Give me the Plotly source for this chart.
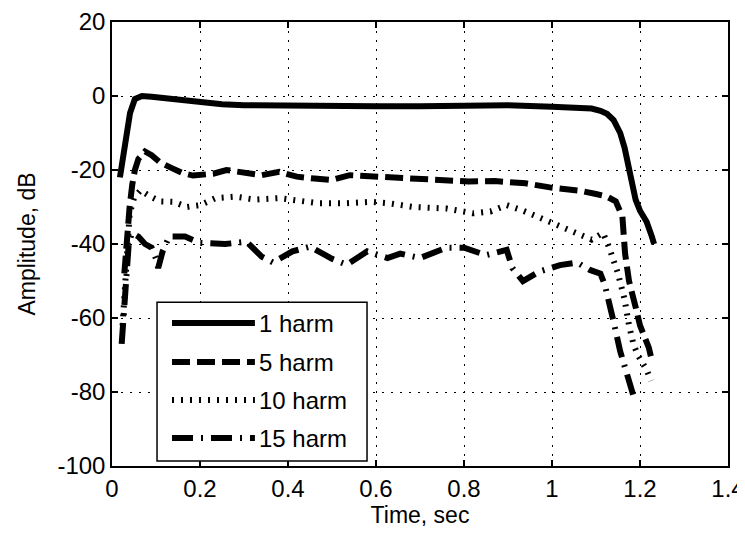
import plotly.graph_objects as go

# ---- data ----
x_h1 = [0.018, 0.03, 0.041, 0.052, 0.068, 0.09, 0.12, 0.16, 0.2, 0.25, 0.3, 0.4, 0.5, 0.6, 0.7,
        0.8, 0.9, 1.0, 1.05, 1.09, 1.11, 1.125, 1.14, 1.155, 1.165, 1.177, 1.19, 1.2, 1.207,
        1.215, 1.227, 1.232]
y_h1 = [-22, -12.7, -4.6, -0.8, 0, -0.2, -0.6, -1.2, -1.8, -2.2, -2.5, -2.7, -2.8, -2.8, -2.8,
        -2.7, -2.5, -2.9, -3.0, -3.4, -4.0, -4.8, -6.5, -10, -14, -21, -28, -31, -32.5,
        -34, -38, -40]

x_h5 = [0.028, 0.034, 0.04, 0.046, 0.052, 0.06, 0.075, 0.09, 0.11, 0.136, 0.16, 0.184, 0.2,
        0.23, 0.26, 0.306, 0.34, 0.38, 0.42, 0.46, 0.5, 0.54, 0.6, 0.63, 0.685, 0.745, 0.81,
        0.87, 0.94, 0.995, 1.064, 1.1, 1.125, 1.145, 1.16, 1.166, 1.175, 1.19, 1.2, 1.21,
        1.22, 1.228]
y_h5 = [-48, -38, -30, -24, -20, -17, -15, -16, -18, -19.5, -20.8, -21.5, -21.4, -21, -20,
        -20.9, -21.4, -20.5, -21.8, -22.3, -22.7, -21.4, -21.8, -21.8, -22.2, -22.4, -23.1,
        -23, -23.6, -24.7, -25.6, -26.5, -27.2, -28.5, -32.6, -42.5, -50, -57, -62, -65,
        -68, -72]

x_h10 = [0.024, 0.03, 0.035, 0.04, 0.05, 0.065, 0.085, 0.11, 0.14, 0.17, 0.2, 0.235, 0.28,
         0.325, 0.38, 0.43, 0.47, 0.53, 0.59, 0.63, 0.685, 0.76, 0.82, 0.86, 0.897, 0.93,
         0.966, 1.0, 1.05, 1.09, 1.116, 1.13, 1.15, 1.165, 1.175, 1.185, 1.195, 1.205,
         1.215, 1.225]
y_h10 = [-62, -52, -40, -32, -27.5, -25.5, -27, -28.5, -28.6, -30, -29.5, -27.6, -27.2,
         -28, -27.6, -28.6, -29, -29, -28.6, -29, -30, -30.4, -31.7, -31.2, -29.5, -30.8,
         -32.6, -34, -36.6, -38.8, -37, -41, -48, -55, -62, -67, -70, -72, -74, -77]

x_h15 = [0.022, 0.028, 0.033, 0.038, 0.045, 0.06, 0.075, 0.09, 0.1, 0.105, 0.115, 0.13,
         0.166, 0.2, 0.257, 0.306, 0.34, 0.366, 0.41, 0.45, 0.5, 0.534, 0.58, 0.626, 0.655,
         0.7, 0.76, 0.8, 0.85, 0.897, 0.91, 0.934, 0.97, 1.018, 1.057, 1.086, 1.11, 1.12,
         1.14, 1.155, 1.17, 1.185]
y_h15 = [-67, -58, -48, -40, -37, -38, -40, -41, -44, -46.5, -42, -38, -38, -39.7, -40,
         -39.4, -43.4, -45, -42, -40.7, -44, -45.6, -42, -43.8, -42.6, -43.8, -41, -41, -43,
         -41.6, -46.5, -50, -47.5, -45.7, -45, -47, -48, -51, -61, -69, -75, -81]

series_names = ["1 harm", "5 harm", "10 harm", "15 harm"]

x_ticks = [0, 0.2, 0.4, 0.6, 0.8, 1, 1.2, 1.4]
x_tick_labels = ["0", "0.2", "0.4", "0.6", "0.8", "1", "1.2", "1.4"]
y_ticks = [-100, -80, -60, -40, -20, 0, 20]
y_tick_labels = ["-100", "-80", "-60", "-40", "-20", "0", "20"]

# ---- styles ----
FONT = "Liberation Sans, Arial, Helvetica, sans-serif"
dashes = ["solid", "18px,7px", "2px,7px", "21px,8px,2px,8px"]
widths = [6, 6, 6, 6]

fig = go.Figure()
xs = [x_h1, x_h5, x_h10, x_h15]
ys = [y_h1, y_h5, y_h10, y_h15]
for name, x, y, d, w in zip(series_names, xs, ys, dashes, widths):
    fig.add_trace(go.Scatter(x=x, y=y, mode="lines", name=name, showlegend=False,
                             line=dict(color="black", width=w, dash=d)))

# ---- custom MATLAB-style legend (paper coordinates) ----
shapes = [dict(type="rect", xref="paper", yref="paper", x0=0.0731, x1=0.414,
               y0=0.0113, y1=0.369, fillcolor="white", line=dict(color="black", width=1.5),
               layer="above")]
annotations = []
row_y = [0.322, 0.234, 0.1486, 0.063]
for name, d, w, ry in zip(series_names, dashes, widths, row_y):
    shapes.append(dict(type="line", xref="paper", yref="paper", x0=0.0974, x1=0.232,
                       y0=ry, y1=ry, line=dict(color="black", width=w, dash=d),
                       layer="above"))
    annotations.append(dict(xref="paper", yref="paper", x=0.2354, y=ry, text=name,
                            showarrow=False, xanchor="left", yanchor="middle",
                            font=dict(family=FONT, size=24, color="black")))

axis_common = dict(showline=True, linecolor="black", linewidth=1.5, mirror="ticks",
                   ticks="inside", ticklen=6, tickcolor="black", tickwidth=1.5,
                   showgrid=True, gridcolor="black", gridwidth=1, griddash="2px,7px",
                   zeroline=False, tickfont=dict(family=FONT, size=24, color="black"))

fig.update_layout(
    width=737, height=526,
    margin=dict(l=104, r=17, t=14, b=68),
    paper_bgcolor="white", plot_bgcolor="white",
    shapes=shapes, annotations=annotations,
    xaxis=dict(range=[0, 1.4], tickvals=x_ticks, ticktext=x_tick_labels,
               title=dict(text="Time, sec", font=dict(family=FONT, size=23, color="black"),
                          standoff=5),
               automargin=False, **axis_common),
    yaxis=dict(range=[-100, 20], tickvals=y_ticks, ticktext=y_tick_labels,
               title=dict(text="Amplitude, dB", font=dict(family=FONT, size=23, color="black"),
                          standoff=15),
               automargin=False, **axis_common),
)

fig.write_html("out.html")
